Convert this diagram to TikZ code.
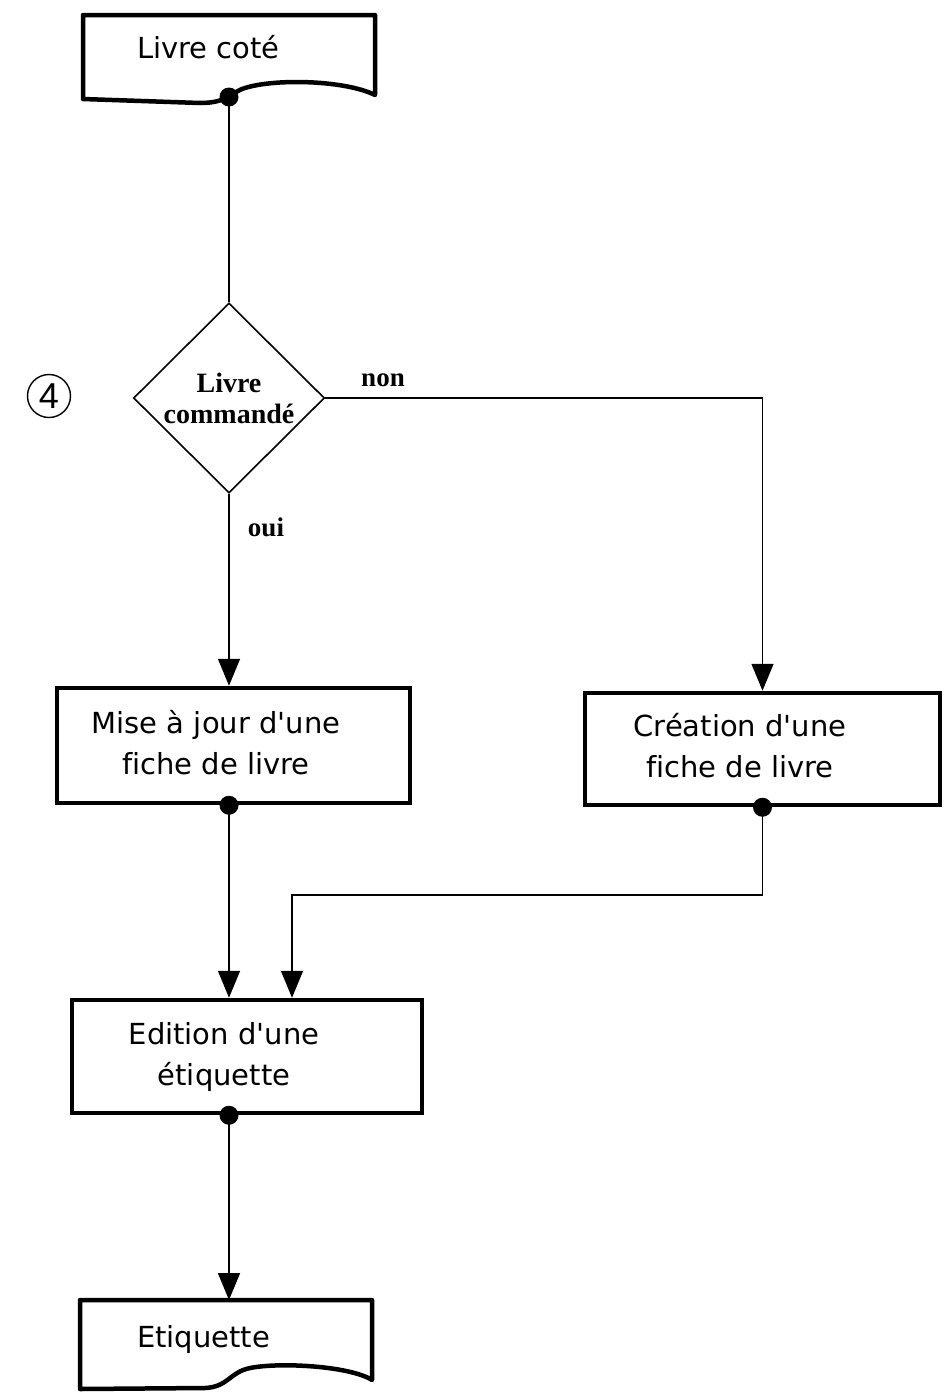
\documentclass[tikz,border=0pt]{standalone}
\usepackage{fontspec}
\setmainfont{DejaVu Sans}[Ligatures={TeXOff,CommonOff}]
\newfontfamily\dsf{Liberation Serif}
\newfontfamily\numfont{Liberation Sans}
\usetikzlibrary{shapes.geometric,arrows.meta,calc}
\newcommand\twolines[3]{\begin{tabular}{@{}c@{}}#2\\#3\end{tabular}\hspace*{#1pt}}
\begin{document}
\begin{tikzpicture}[x=1pt,y=-1pt,
  box/.style={draw, line width=4.5pt, rectangle, inner sep=0pt, font=\fontsize{29}{41}\selectfont},
  conn/.style={line width=1.6pt},
  arr/.style={conn, -{Triangle[length=27pt,width=22pt]}},
  decision/.style={diamond, draw, line width=1.6pt, minimum width=191pt, minimum height=190pt, inner sep=0pt, aspect=1, align=center, font=\dsf\bfseries\fontsize{28}{31}\selectfont},
  lab/.style={font=\dsf\bfseries\fontsize{27}{31}\selectfont},
  doctext/.style={font=\fontsize{29}{35}\selectfont, anchor=base, inner sep=0pt},
  docline/.style={line width=4.5pt, line join=round},
  dot/.style={fill=black}]
\fill[white] (0,0) rectangle (944,1395);
\useasboundingbox (0,0) rectangle (944,1395);

% document "Livre coté"
\draw[docline] (83,15) -- (375,15) -- (375,95)
  .. controls (345,80) and (272,78) .. (242,89)
  .. controls (230,94) and (226,103) .. (200,103) -- (83,99) -- cycle;
\node[doctext] (livre) at (208.5,58) {Livre coté};
\coordinate (livreout) at (229,97);

% decision
\node[decision] (dec) at (229,398) {Livre\\commandé};
\node[circle, draw, line width=1.4pt, minimum size=43pt, inner sep=0pt, font=\numfont\fontsize{36}{36}\selectfont] (num4) at (49,396) {4};

% process boxes
\node[box, minimum width=353pt, minimum height=115pt] (mise) at (233.5,745.5) {\twolines{35}{Mise à jour d'une}{fiche de livre}};
\node[box, minimum width=355pt, minimum height=112pt] (crea) at (762.5,749) {\twolines{45}{Création d'une}{fiche de livre}};
\node[box, minimum width=350pt, minimum height=113pt] (edit) at (247,1056.5) {\twolines{46}{Edition d'une}{étiquette}};

% document "Etiquette"
\draw[docline] (80,1300) -- (372,1300) -- (372,1380)
  .. controls (350,1366) and (280,1362) .. (250,1368)
  .. controls (230,1372) and (228,1387) .. (205,1388) -- (80,1389) -- cycle;
\node[doctext] (etq) at (203.5,1347) {Etiquette};
\coordinate (etqtop) at (229,1300);

% connectors
\draw[conn] (livreout) -- (dec.north);
\draw[arr] (dec.east) -| (crea.north);
\node[lab] (non) at (383,380) {non};
\draw[arr] (dec.south) -- (dec.south |- mise.north);
\node[lab] (oui) at (266,527) {oui};
\draw[arr] (dec.south |- mise.south) -- (dec.south |- edit.north);
\coordinate (bend) at (292,895);
\draw[arr] (crea.south) |- (bend) -- (bend |- edit.north);
\draw[arr] (dec.south |- edit.south) -- (etqtop);

% dots
\fill[dot] (livreout) circle (9.5);
\fill[dot] (dec.south |- mise.south) circle (9.5);
\fill[dot] (crea.south) circle (9.5);
\fill[dot] (dec.south |- edit.south) circle (9.5);
\end{tikzpicture}
\end{document}
